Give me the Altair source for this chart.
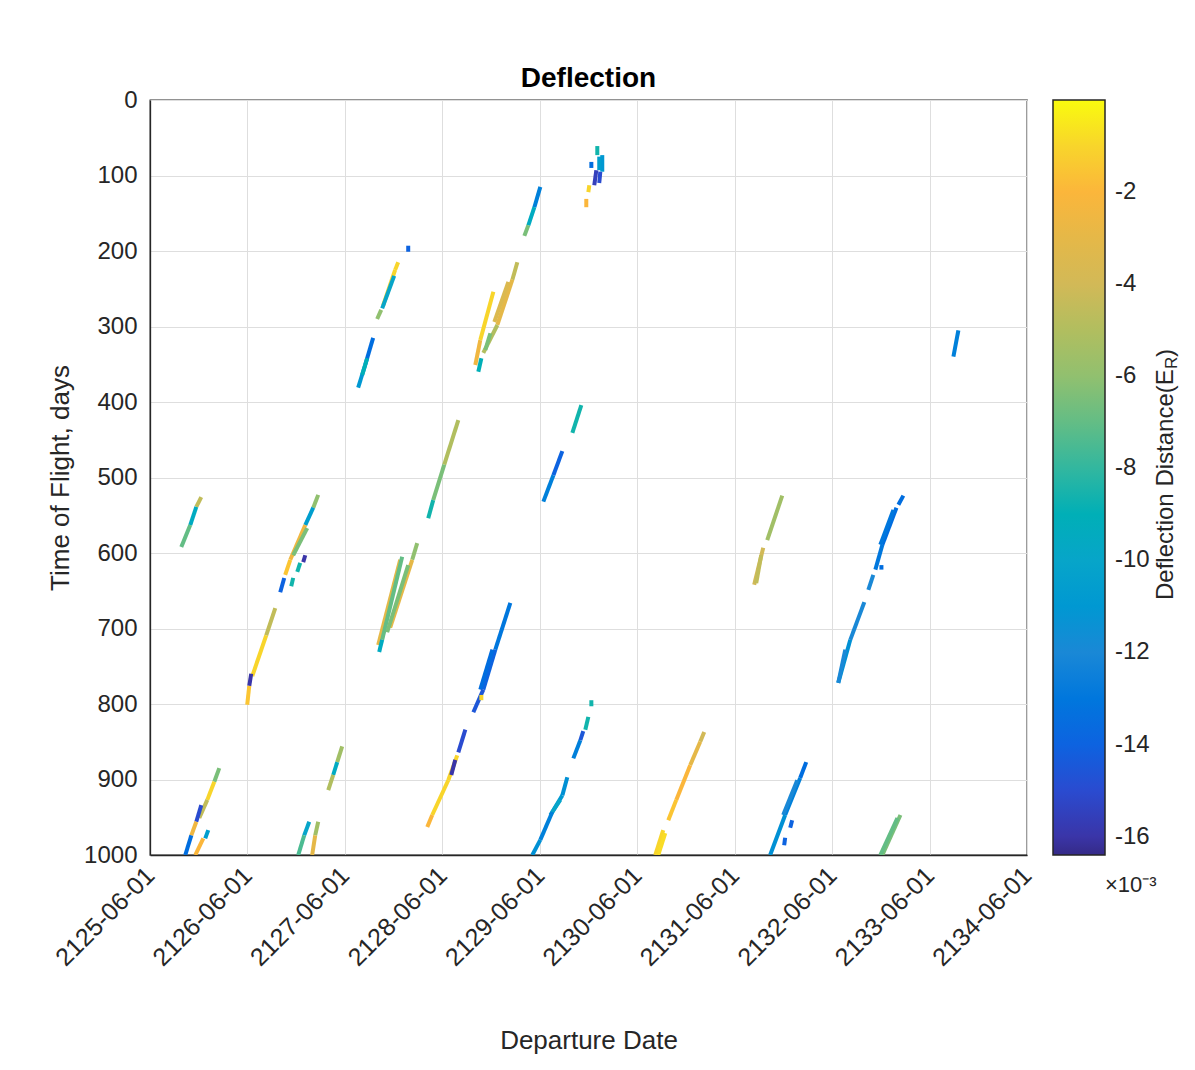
import altair as alt
import pandas as pd

# ---------------- data ----------------
years = list(range(2125, 2135))                 # x tick labels: YYYY-06-01
y_ticks = list(range(0, 1001, 100))             # time of flight ticks
cbar_ticks = [-16, -14, -12, -10, -8, -6, -4, -2]   # colorbar ticks (x 1e-3)

# streak segments: departure (decimal year) / time of flight (days) at both ends,
# and deflection distance (x 1e-3 Earth radii)
dep_start = [
    2125.940, 2125.889, 2125.827,
    2127.141, 2127.090, 2127.008, 2127.028, 2126.854, 2126.792, 2127.008, 2126.956, 2126.884,
    2126.700, 2126.607, 2126.453, 2126.433,
    2126.125, 2126.074, 2126.002, 2125.940, 2125.889, 2125.838, 2126.012, 2125.961,
    2127.049, 2126.997, 2127.141, 2127.110,
    2127.387, 2127.336, 2127.295,
    2128.065, 2127.962, 2127.931, 2127.921, 2127.788,
    2127.705, 2127.623, 2127.644,
    2128.578, 2128.434, 2128.321,
    2127.983, 2128.003, 2128.157, 2128.106, 2128.065, 2127.798,
    2128.937, 2128.803, 2129.183, 2129.132, 2129.091, 2128.978, 2128.906, 2128.814,
    2129.419, 2129.358, 2129.296,
    2130.004, 2130.055, 2130.024, 2129.943, 2129.994, 2130.035, 2129.922, 2129.891,
    2129.645, 2129.553,
    2129.840,
    2129.111, 2128.957, 2128.927, 2128.834, 2128.814,
    2128.650, 2128.567, 2128.547, 2128.475, 2128.311,
    2129.943, 2129.912, 2129.860, 2129.830,
    2129.696, 2129.645, 2129.624, 2129.542, 2129.419,
    2131.102, 2131.061, 2130.958, 2130.815, 2130.681, 2130.702,
    2131.903, 2131.708, 2131.687,
    2133.144, 2133.073, 2133.042, 2132.929, 2132.919, 2132.836, 2132.744, 2132.600, 2132.549,
    2132.149, 2132.087, 2132.057, 2131.933, 2132.005, 2131.933,
    2133.114, 2133.083,
    2133.709,
]
tof_start = [
    526, 539, 563,
    523, 540, 563, 567, 609, 633, 603, 613, 633,
    673, 709, 760, 776,
    885, 903, 927, 934, 956, 974, 967, 978,
    956, 974, 956, 974,
    856, 877, 894,
    193, 215, 225, 233, 278,
    315, 351, 342,
    424, 483, 530,
    609, 605, 587, 609, 616, 715,
    254, 318, 215, 238, 241, 298, 309, 342,
    115, 142, 166,
    61, 73, 75, 82, 93, 95, 113, 131,
    465, 497,
    404,
    666, 728, 728, 781, 788,
    834, 868, 874, 901, 947,
    795, 817, 836, 848,
    897, 921, 927, 943, 980,
    837, 850, 881, 927, 967, 971,
    524, 593, 603,
    524, 540, 543, 589, 616, 629, 665, 715, 728,
    877, 898, 901, 947, 954, 977,
    947, 951,
    305,
]
dep_end = [
    2125.889, 2125.827, 2125.735,
    2127.090, 2127.008, 2126.854, 2126.884, 2126.802, 2126.751, 2126.987, 2126.926, 2126.864,
    2126.607, 2126.464, 2126.433, 2126.412,
    2126.074, 2126.002, 2125.920, 2125.889, 2125.838, 2125.776, 2125.981, 2125.879,
    2126.997, 2126.936, 2127.110, 2127.079,
    2127.336, 2127.295, 2127.244,
    2128.065, 2127.931, 2127.808, 2127.798, 2127.746,
    2127.623, 2127.551, 2127.593,
    2128.434, 2128.321, 2128.270,
    2127.757, 2127.798, 2128.106, 2127.880, 2127.849, 2127.767,
    2128.803, 2128.752, 2129.132, 2128.978, 2128.947, 2128.834, 2128.855, 2128.783,
    2129.358, 2129.296, 2129.255,
    2130.004, 2130.055, 2130.024, 2129.943, 2129.973, 2130.024, 2129.912, 2129.891,
    2129.553, 2129.450,
    2129.748,
    2128.957, 2128.834, 2128.803, 2128.732, 2128.814,
    2128.578, 2128.475, 2128.506, 2128.311, 2128.260,
    2129.943, 2129.881, 2129.830, 2129.758,
    2129.645, 2129.542, 2129.522, 2129.419, 2129.337,
    2131.061, 2130.958, 2130.815, 2130.733, 2130.599, 2130.630,
    2131.749, 2131.615, 2131.636,
    2133.093, 2132.929, 2132.908, 2132.857, 2132.919, 2132.785, 2132.600, 2132.477, 2132.477,
    2132.087, 2131.933, 2131.913, 2131.779, 2131.985, 2131.923,
    2132.929, 2132.908,
    2133.658,
]
tof_end = [
    539, 563, 592,
    540, 563, 609, 603, 629, 652, 612, 625, 644,
    709, 763, 776, 801,
    903, 927, 951, 956, 974, 1000, 978, 1000,
    974, 1000, 974, 1000,
    877, 894, 914,
    201, 225, 272, 276, 290,
    351, 381, 364,
    483, 530, 554,
    722, 715, 609, 699, 705, 731,
    318, 351, 238, 298, 294, 335, 331, 360,
    142, 166, 180,
    73, 95, 93, 90, 113, 110, 122, 142,
    497, 532,
    441,
    728, 781, 781, 811, 795,
    864, 901, 894, 947, 963,
    803, 834, 848, 872,
    921, 943, 947, 980, 1000,
    850, 881, 927, 954, 1000, 1000,
    583, 642, 640,
    536, 589, 589, 622, 622, 649, 715, 772, 772,
    898, 947, 947, 1000, 964, 987,
    1000, 1000,
    340,
]
deflection = [
    -4.5, -9.5, -7.0,
    -6.0, -10.5, -2.5, -6.5, -1.5, -14.0, -16.0, -8.5, -8.5,
    -4.5, -1.0, -16.0, -1.5,
    -6.5, -1.0, -4.5, -15.0, -2.5, -13.5, -10.5, -2.0,
    -10.0, -7.5, -5.5, -3.0,
    -5.5, -9.5, -5.0,
    -14.0, -1.0, -1.0, -10.0, -6.0,
    -13.5, -11.0, -9.0,
    -5.0, -6.5, -8.5,
    -3.0, -7.0, -6.0, -3.0, -6.5, -9.5,
    -1.0, -2.5, -4.5, -3.0, -3.5, -5.0, -6.5, -9.0,
    -12.5, -9.5, -6.5,
    -8.5, -11.0, -10.5, -13.5, -15.5, -15.0, -1.0, -2.0,
    -14.0, -12.5,
    -8.5,
    -13.0, -14.0, -13.5, -14.5, -1.0,
    -15.0, -1.0, -16.0, -1.0, -2.0,
    -8.5, -8.5, -14.5, -12.5,
    -11.5, -11.0, -10.0, -12.5, -11.5,
    -4.0, -3.0, -2.0, -1.5, -1.0, -0.8,
    -5.5, -4.0, -4.5,
    -13.5, -13.5, -13.0, -13.0, -13.5, -12.0, -12.0, -11.5, -12.0,
    -13.5, -12.5, -12.0, -11.5, -14.0, -14.0,
    -6.5, -7.0,
    -12.5,
]

# parula-like colour map
color_domain = [-16.4, -16.0, -15.0, -14.0, -12.0, -10.0, -8.0, -6.0, -4.0, -2.0, -1.0, 0.0]
color_range = ['#352a87', '#3a35a8', '#2a4bd0', '#0d63e0', '#1a88d6', '#07a5c9',
               '#32b79f', '#91c06f', '#d2b957', '#fbb63b', '#f8d52b', '#f9fb0e']

# ---------------- helpers ----------------
EPOCH = pd.Timestamp("1970-01-01")


def dec_year_to_ms(v):
    yr = int(v)
    start = pd.Timestamp(year=yr, month=1, day=1)
    end = pd.Timestamp(year=yr + 1, month=1, day=1)
    ts = start + (end - start) * (v - yr)
    return int((ts - EPOCH) / pd.Timedelta(milliseconds=1))


df = pd.DataFrame({
    "dep1": [dec_year_to_ms(v) for v in dep_start],
    "tof1": tof_start,
    "dep2": [dec_year_to_ms(v) for v in dep_end],
    "tof2": tof_end,
    "deflection": deflection,
})

FONT = "Liberation Sans"
TXT = "#262626"

x_domain = [alt.DateTime(year=years[0], month=6, date=1, utc=True),
            alt.DateTime(year=years[-1], month=6, date=1, utc=True)]
x_values = [alt.DateTime(year=y, month=6, date=1, utc=True) for y in years]

streaks = alt.Chart(df).mark_rule(strokeWidth=4, strokeCap="butt", clip=True).encode(
    x=alt.X("dep1:T",
            scale=alt.Scale(type="utc", domain=x_domain, nice=False),
            axis=alt.Axis(values=x_values,
                          labelExpr="utcFormat(datum.value, '%Y-%m-%d')",
                          labelAngle=315, labelAlign="right", labelBaseline="middle",
                          labelFontSize=25, labelPadding=16, labelOverlap=False,
                          title="Departure Date", titlePadding=57)),
    x2=alt.X2("dep2"),
    y=alt.Y("tof1:Q",
            scale=alt.Scale(domain=[0, 1000], reverse=True, nice=False, zero=False),
            axis=alt.Axis(values=y_ticks, format="d", labelPadding=13, labelOverlap=False,
                          title="Time of Flight, days", titlePadding=10)),
    y2=alt.Y2("tof2"),
    color=alt.Color("deflection:Q",
                    scale=alt.Scale(domain=color_domain, range=color_range, clamp=True),
                    legend=alt.Legend(orient="none", legendX=903, legendY=0,
                                      direction="vertical", title=None,
                                      gradientLength=755, gradientThickness=52,
                                      gradientStrokeColor=TXT, gradientStrokeWidth=1.5,
                                      values=cbar_ticks,
                                      labelExpr="'-' + abs(datum.value)",
                                      labelFont=FONT, labelFontSize=24, labelColor=TXT,
                                      labelOffset=10, labelOverlap=False, padding=0)),
)

# colorbar title with subscript, and the x10^-3 exponent
cb_main = alt.Chart(pd.DataFrame({"t": ["Deflection Distance(E"]})).mark_text(
    font=FONT, fontSize=24, angle=270, align="left", baseline="alphabetic", color=TXT
).encode(x=alt.value(1023), y=alt.value(500), text="t:N")
cb_sub = alt.Chart(pd.DataFrame({"t": ["R"]})).mark_text(
    font=FONT, fontSize=17, angle=270, align="left", baseline="alphabetic", color=TXT
).encode(x=alt.value(1027), y=alt.value(269), text="t:N")
cb_close = alt.Chart(pd.DataFrame({"t": [")"]})).mark_text(
    font=FONT, fontSize=24, angle=270, align="left", baseline="alphabetic", color=TXT
).encode(x=alt.value(1023), y=alt.value(257), text="t:N")
cb_exp = alt.Chart(pd.DataFrame({"t": ["\u00d710\u207b\u00b3"]})).mark_text(
    font=FONT, fontSize=22, align="left", baseline="middle", color=TXT
).encode(x=alt.value(955), y=alt.value(785), text="t:N")

chart = alt.layer(streaks, cb_main, cb_sub, cb_close, cb_exp).properties(
    width=877, height=755,
    title=alt.TitleParams("Deflection", anchor="middle", baseline="alphabetic",
                          offset=0, dy=27),
    autosize=alt.AutoSizeParams(type="none"),
    padding={"left": 142, "top": 92, "right": 160, "bottom": 203},
).configure_axis(
    labelFont=FONT, titleFont=FONT, labelFontSize=24, titleFontSize=26,
    labelColor=TXT, titleColor=TXT, titleFontWeight="normal",
    gridColor="#dedede", gridWidth=1, domainColor=TXT, domainWidth=1.3, ticks=False,
).configure_view(
    stroke=TXT, strokeWidth=1.3,
).configure_title(
    font=FONT, fontSize=28, fontWeight="bold", color="#000000",
)

chart.save("out.html", embed_options={"renderer": "svg", "actions": False})
